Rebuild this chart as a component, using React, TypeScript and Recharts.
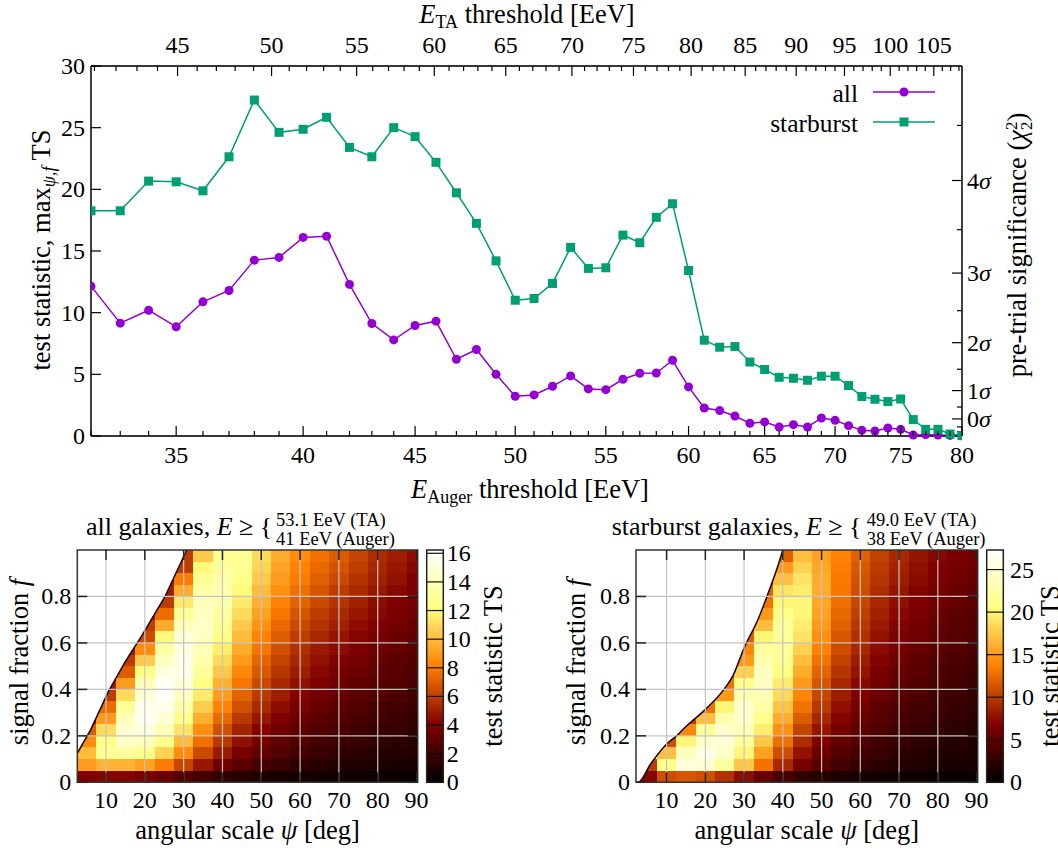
import React from 'react'
import {
  LineChart,
  Line,
  XAxis,
  YAxis,
  CartesianGrid,
  Legend,
  Customized,
  ComposedChart,
  Scatter,
  Area,
  ReferenceLine,
  ReferenceArea,
} from 'recharts'

const FONT = '"Liberation Serif", "DejaVu Serif", "Times New Roman", Times, serif'
const W = 1058
const H = 859
const PURPLE = '#9400d3'
const GREEN = '#009e73'

// ---------- top panel: max TS vs energy threshold ----------
const eAuger = [
  32, 33, 34, 35, 36, 37, 38, 39, 40, 41, 42, 43, 44, 45, 46, 47, 48, 49, 50, 51, 52, 53, 54, 55, 56,
  57, 58, 59, 60, 61, 62, 63, 64, 65, 66, 67, 68, 69, 70, 71, 72, 73, 74, 75, 76, 77, 78, 79, 80,
]
const tsAll = [
  12.15, 9.15, 10.2, 8.85, 10.88, 11.8, 14.26, 14.48, 16.1, 16.2, 12.29, 9.12, 7.79, 8.96, 9.31, 6.22,
  7.01, 5.0, 3.22, 3.33, 4.03, 4.87, 3.82, 3.76, 4.6, 5.09, 5.11, 6.14, 3.98, 2.27, 2.06, 1.62, 1.03,
  1.14, 0.73, 0.92, 0.73, 1.46, 1.27, 0.84, 0.46, 0.41, 0.65, 0.54, 0.08, 0.11, 0.08, 0.05, 0.02,
]
const tsStarburst = [
  18.26, 18.26, 20.67, 20.61, 19.88, 22.64, 27.24, 24.62, 24.87, 25.84, 23.4, 22.64, 25.0, 24.27,
  22.19, 19.72, 17.24, 14.2, 11.01, 11.15, 12.37, 15.29, 13.59, 13.64, 16.29, 15.67, 17.73, 18.83,
  13.42, 7.77, 7.2, 7.25, 6.0, 5.39, 4.76, 4.68, 4.52, 4.85, 4.85, 4.09, 3.2, 2.98, 2.79, 3.0, 1.33,
  0.54, 0.54, 0.16, 0.03,
]
const augerLabels = [35, 40, 45, 50, 55, 60, 65, 70, 75, 80]
const taLabels = [45, 50, 55, 60, 65, 70, 75, 80, 85, 90, 95, 100, 105]
const tsTicks = [0, 5, 10, 15, 20, 25, 30]
const sigmaLevels = [-2, -1.5, -1, -0.5, 0, 0.5, 1, 1.5, 2, 2.5, 3, 3.5, 4, 4.5]
const sigmaTS = [
  0.046, 0.138, 0.346, 0.738, 1.386, 2.351, 3.682, 5.412, 7.566, 10.163, 13.211, 16.728, 20.716,
  25.182,
]

// energy-scale conversion between the two experiments (for the top axis)
const taToAuger = (ta: number) => 35.05 * Math.pow(ta / 45, 1 / 1.065)
const augerToTa = (e: number) => 45 * Math.pow(e / 35.05, 1.065)
const taMinor = Array.from({ length: 68 }, (_, i) => 41 + i)

const TOP = { PL: 91, PR: 962, PT: 66, PB: 436, H: 520 }

// ---------- bottom panels: TS maps ----------
const psiCenters = [5, 10, 15, 20, 25, 30, 35, 40, 45, 50, 55, 60, 65, 70, 75, 80, 85, 90]
const fCenters = [
  0.975, 0.925, 0.875, 0.825, 0.775, 0.725, 0.675, 0.625, 0.575, 0.525, 0.475, 0.425, 0.375, 0.325,
  0.275, 0.225, 0.175, 0.125, 0.075, 0.025,
]
const psiTicks = [10, 20, 30, 40, 50, 60, 70, 80, 90]
const psiGrid = [10, 20, 30, 40, 50, 60, 70, 80]
const fTicks = [0, 0.2, 0.4, 0.6, 0.8]
const fGrid = [0.2, 0.4, 0.6, 0.8]
const allCbTicks = [0, 2, 4, 6, 8, 10, 12, 14, 16]
const starCbTicks = [0, 5, 10, 15, 20, 25]

const _ = null
const allMap: (number | null)[][] = [
  [_, _, _, _, _, 6, 10.5, 12.8, 12.8, 11, 9.5, 8.5, 7.7, 7, 6.2, 5.5, 5, 4.5],
  [_, _, _, _, _, 6, 12, 13.2, 12.8, 10.8, 9.3, 8.2, 7.4, 6.7, 6, 5.3, 4.8, 4.3],
  [_, _, _, _, 5, 8, 12.8, 13.5, 12.5, 10.5, 9, 8, 7.1, 6.4, 5.7, 5.1, 4.6, 4.1],
  [_, _, _, _, 5, 9.5, 13.5, 13.7, 12, 10, 8.6, 7.6, 6.8, 6, 5.4, 4.8, 4.3, 3.9],
  [_, _, _, _, 6, 11.5, 14, 13.6, 11.5, 9.6, 8.2, 7.2, 6.4, 5.7, 5.1, 4.5, 4.1, 3.7],
  [_, _, _, 5, 7.5, 13, 14.3, 13.2, 11, 9.2, 7.8, 6.8, 6, 5.4, 4.8, 4.3, 3.9, 3.5],
  [_, _, _, 6, 9.5, 14, 14.5, 12.8, 10.5, 8.7, 7.4, 6.4, 5.7, 5.1, 4.5, 4.1, 3.7, 3.3],
  [_, _, _, 6.5, 12, 15, 14.3, 12.2, 10, 8.2, 7, 6, 5.3, 4.7, 4.2, 3.8, 3.4, 3.1],
  [_, _, 5, 8.5, 13.3, 15.3, 14, 11.6, 9.5, 7.8, 6.6, 5.6, 4.9, 4.4, 3.9, 3.5, 3.2, 2.9],
  [_, _, 6, 10.5, 14.3, 15.6, 13.6, 11, 9, 7.3, 6.2, 5.3, 4.6, 4.1, 3.7, 3.3, 3, 2.7],
  [_, _, 7, 12.3, 15.3, 15.5, 13, 10.4, 8.4, 6.9, 5.8, 5, 4.3, 3.8, 3.4, 3.1, 2.8, 2.5],
  [_, 5, 9, 14, 15.9, 15, 12.3, 9.7, 7.8, 6.4, 5.4, 4.6, 4, 3.5, 3.1, 2.8, 2.6, 2.3],
  [_, 6, 11, 15, 16, 14.4, 11.5, 9, 7.2, 5.9, 5, 4.2, 3.6, 3.2, 2.9, 2.6, 2.4, 2.1],
  [_, 7.5, 13, 15.7, 15.6, 13.5, 10.6, 8.2, 6.6, 5.4, 4.5, 3.8, 3.3, 2.9, 2.6, 2.3, 2.1, 1.9],
  [5, 9, 14, 15.8, 15, 12.5, 9.6, 7.4, 5.9, 4.8, 4, 3.4, 2.9, 2.6, 2.3, 2.1, 1.9, 1.7],
  [7, 11, 14.8, 15.3, 14, 11.3, 8.6, 6.6, 5.2, 4.2, 3.5, 3, 2.6, 2.3, 2, 1.8, 1.7, 1.5],
  [8.5, 12.5, 14.5, 14.2, 12.5, 10, 7.6, 5.8, 4.6, 3.7, 3.1, 2.6, 2.2, 2, 1.8, 1.6, 1.5, 1.3],
  [10, 12.8, 13.2, 12.5, 10.8, 8.5, 6.4, 4.9, 3.8, 3.1, 2.5, 2.1, 1.8, 1.6, 1.4, 1.3, 1.2, 1.1],
  [9, 9.8, 9.8, 9.2, 8, 6.3, 4.8, 3.6, 2.8, 2.2, 1.8, 1.5, 1.3, 1.1, 1, 0.9, 0.8, 0.8],
  [4, 4.2, 4.2, 3.9, 3.4, 2.7, 2.1, 1.6, 1.2, 1, 0.8, 0.7, 0.6, 0.5, 0.45, 0.4, 0.35, 0.3],
]
const starMap: (number | null)[][] = [
  [_, _, _, _, _, _, _, 12, 17, 15.5, 13.8, 12, 10.3, 9, 8, 7.2, 6.5, 6],
  [_, _, _, _, _, _, _, 15, 18, 15.8, 13.6, 11.6, 10, 8.7, 7.7, 6.9, 6.3, 5.8],
  [_, _, _, _, _, _, 10, 17, 19, 16, 13.4, 11.3, 9.7, 8.4, 7.4, 6.6, 6, 5.5],
  [_, _, _, _, _, _, 12, 19, 19.5, 16, 13.2, 11, 9.3, 8, 7, 6.3, 5.7, 5.2],
  [_, _, _, _, _, _, 13, 20, 20, 15.8, 12.8, 10.6, 9, 7.7, 6.8, 6, 5.4, 5],
  [_, _, _, _, _, _, 15, 21, 20, 15.5, 12.4, 10.2, 8.6, 7.3, 6.4, 5.7, 5.1, 4.7],
  [_, _, _, _, _, 10, 17, 22, 19.5, 15, 12, 9.8, 8.2, 7, 6.1, 5.4, 4.8, 4.4],
  [_, _, _, _, _, 12, 20, 22, 19, 14.5, 11.5, 9.4, 7.8, 6.6, 5.8, 5.1, 4.6, 4.2],
  [_, _, _, _, _, 14, 22, 22, 18, 13.8, 11, 8.9, 7.4, 6.3, 5.5, 4.8, 4.3, 3.9],
  [_, _, _, _, _, 15, 23, 21.5, 17, 13, 10.3, 8.4, 7, 5.9, 5.1, 4.5, 4, 3.7],
  [_, _, _, _, 10, 18, 24, 20.5, 16, 12.2, 9.7, 7.9, 6.5, 5.5, 4.8, 4.2, 3.8, 3.4],
  [_, _, _, _, 13, 21, 24, 19.5, 15, 11.4, 9, 7.3, 6.1, 5.1, 4.4, 3.9, 3.5, 3.2],
  [_, _, _, 10, 15, 23.5, 23.5, 18.5, 14, 10.6, 8.4, 6.8, 5.6, 4.7, 4.1, 3.6, 3.2, 2.9],
  [_, _, _, 13, 20, 24.5, 22.5, 17.3, 13, 9.8, 7.7, 6.2, 5.1, 4.3, 3.7, 3.3, 2.9, 2.6],
  [_, _, 10, 17, 23, 24.5, 21, 16, 11.8, 8.9, 7, 5.6, 4.6, 3.9, 3.3, 2.9, 2.6, 2.4],
  [_, _, 14, 22, 24.5, 23.5, 19.5, 14.5, 10.5, 7.9, 6.2, 5, 4.1, 3.4, 2.9, 2.6, 2.3, 2.1],
  [_, 11, 20, 24.5, 25, 22, 17.5, 12.8, 9.2, 6.9, 5.4, 4.3, 3.5, 3, 2.6, 2.3, 2, 1.8],
  [_, 17, 24, 26, 24.5, 20, 15.5, 11, 7.8, 5.8, 4.5, 3.6, 3, 2.5, 2.2, 1.9, 1.7, 1.5],
  [10, 21, 25.5, 25, 22, 17.5, 13, 9, 6.3, 4.7, 3.6, 2.9, 2.4, 2, 1.7, 1.5, 1.3, 1.2],
  [7, 11, 11.5, 11, 9.5, 7.5, 5.5, 3.8, 2.7, 2, 1.5, 1.2, 1, 0.8, 0.7, 0.6, 0.55, 0.5],
]

// edge of the allowed (psi, f) region, white above it
const allEdgePsi = [2.6, 6, 10.6, 15, 19.2, 25.2, 30.8]
const allEdgeF = [0.125, 0.225, 0.39, 0.52, 0.63, 0.8, 1.0]
const starEdgePsi = [2.1, 2.6, 6, 10, 12.8, 15, 20.1, 24.8, 27, 30.3, 33.3, 35.9, 38.5, 40]
const starEdgeF = [0, 0, 0.082, 0.165, 0.203, 0.24, 0.315, 0.4, 0.455, 0.59, 0.69, 0.8, 0.92, 1.0]

const clamp = (v: number) => Math.max(0, Math.min(1, v))
const afmhot = (t: number) =>
  `rgb(${Math.round(255 * clamp(2 * t))},${Math.round(255 * clamp(2 * t - 0.5))},${Math.round(
    255 * clamp(2 * t - 1),
  )})`

// ---------- top panel ticks ----------
function AugerTick(props: any) {
  const { x, payload } = props
  const major = augerLabels.includes(Math.round(payload.value))
  return (
    <g>
      <line x1={x} x2={x} y1={TOP.PB} y2={TOP.PB - (major ? 10 : 5)} stroke="#000" strokeWidth={1.2} />
      {major && (
        <text x={x} y={TOP.PB + 27} textAnchor="middle" fontFamily={FONT} fontSize={24} fill="#000">
          {Math.round(payload.value)}
        </text>
      )}
    </g>
  )
}

function TaTick(props: any) {
  const { x, payload } = props
  const ta = Math.round(augerToTa(payload.value))
  const major = taLabels.includes(ta)
  return (
    <g>
      <line x1={x} x2={x} y1={TOP.PT} y2={TOP.PT + (major ? 10 : 5)} stroke="#000" strokeWidth={1.2} />
      {major && (
        <text x={x} y={TOP.PT - 13} textAnchor="middle" fontFamily={FONT} fontSize={24} fill="#000">
          {ta}
        </text>
      )}
    </g>
  )
}

function TsTick(props: any) {
  const { y, payload } = props
  return (
    <g>
      <line x1={TOP.PL} x2={TOP.PL + 10} y1={y} y2={y} stroke="#000" strokeWidth={1.2} />
      <text x={TOP.PL - 6} y={y + 8} textAnchor="end" fontFamily={FONT} fontSize={24} fill="#000">
        {payload.value}
      </text>
    </g>
  )
}

const SquareDot = (props: any) => {
  const { cx, cy } = props
  if (cx == null || cy == null) return <g />
  return <rect x={cx - 4.5} y={cy - 4.5} width={9} height={9} fill={GREEN} />
}

function LegendBox(props: any) {
  const payload = props.payload || []
  return (
    <svg width={205} height={62} style={{ display: 'block' }}>
      {payload.map((entry: any, i: number) => {
        const y = 16 + i * 30
        const star = entry.dataKey === 'starburst'
        return (
          <g key={entry.value}>
            <text x={116} y={y + 10} textAnchor="end" fontFamily={FONT} fontSize={25.5} fill="#000">
              {entry.value}
            </text>
            <line x1={131} x2={193} y1={y} y2={y} stroke={entry.color} strokeWidth={1.5} />
            {star ? (
              <rect x={157.5} y={y - 4.5} width={9} height={9} fill={entry.color} />
            ) : (
              <circle cx={162} cy={y} r={4.5} fill={entry.color} />
            )}
          </g>
        )
      })}
    </svg>
  )
}

// titles and the right-hand significance scale (same 0..30 range as the TS axis)
function TopTitles() {
  const t = { fontFamily: FONT, fontSize: 26.5, fill: '#000' }
  const tsY = (v: number) => TOP.PB - (v / 30) * (TOP.PB - TOP.PT)
  return (
    <g>
      {sigmaTS.map((ts, i) => {
        const lvl = sigmaLevels[i]
        const major = lvl >= 0 && Number.isInteger(lvl)
        const y = tsY(ts)
        return (
          <g key={`sig${i}`}>
            <line x1={TOP.PR} x2={TOP.PR - (major ? 10 : 5)} y1={y} y2={y} stroke="#000" strokeWidth={1.2} />
            {major && (
              <text x={TOP.PR + 5} y={y + 8} fontFamily={FONT} fontSize={24} fill="#000">
                {lvl}
                <tspan fontStyle="italic">σ</tspan>
              </text>
            )}
          </g>
        )
      })}
      <text x={527} y={23} textAnchor="middle" {...t}>
        <tspan fontStyle="italic">E</tspan>
        <tspan fontSize={18} dy={5}>TA</tspan>
        <tspan dy={-5}> threshold [EeV]</tspan>
      </text>
      <text x={530} y={498} textAnchor="middle" {...t}>
        <tspan fontStyle="italic">E</tspan>
        <tspan fontSize={18} dy={5}>Auger</tspan>
        <tspan dy={-5}> threshold [EeV]</tspan>
      </text>
      <text transform="translate(50,250) rotate(-90)" textAnchor="middle" {...t}>
        test statistic, max
        <tspan fontSize={18} dy={5} fontStyle="italic">ψ,f</tspan>
        <tspan dy={-5}> TS</tspan>
      </text>
      <text transform="translate(1026,245) rotate(-90)" textAnchor="middle" {...t}>
        pre-trial significance (<tspan fontStyle="italic">χ</tspan>
        <tspan fontSize={17} dy={-9}>2</tspan>
        <tspan fontSize={17} dx={-8.5} dy={15}>2</tspan>
        <tspan dy={-6}>)</tspan>
      </text>
    </g>
  )
}

function TopPanel() {
  const data = eAuger.map((e, i) => ({ e, all: tsAll[i], starburst: tsStarburst[i] }))
  const taPositions = taMinor.map(taToAuger).filter((v) => v >= 32 && v <= 80)
  return (
    <div style={{ position: 'absolute', left: 0, top: 0, fontFamily: FONT }}>
      <LineChart
        width={W}
        height={TOP.H}
        data={data}
        margin={{ top: TOP.PT - 40, right: W - TOP.PR - 50, bottom: TOP.H - TOP.PB - 40, left: TOP.PL - 50 }}
      >
        <CartesianGrid xAxisId="bottom" yAxisId="right" horizontal vertical={false} stroke="#cdcdcd" strokeWidth={1.3} />
        <XAxis
          xAxisId="bottom"
          dataKey="e"
          type="number"
          scale="log"
          domain={[32, 80]}
          ticks={eAuger}
          interval={0}
          allowDataOverflow
          tick={AugerTick}
          tickLine={false}
          axisLine={{ stroke: '#000', strokeWidth: 1.5 }}
          height={40}
        />
        <XAxis
          xAxisId="top"
          orientation="top"
          dataKey="e"
          type="number"
          scale="log"
          domain={[32, 80]}
          ticks={taPositions}
          interval={0}
          allowDataOverflow
          tick={TaTick}
          tickLine={false}
          axisLine={{ stroke: '#000', strokeWidth: 1.5 }}
          height={40}
        />
        <YAxis
          yAxisId="left"
          type="number"
          domain={[0, 30]}
          ticks={tsTicks}
          interval={0}
          tick={TsTick}
          tickLine={false}
          axisLine={{ stroke: '#000', strokeWidth: 1.5 }}
          width={50}
        />
        <YAxis
          yAxisId="right"
          orientation="right"
          type="number"
          domain={[0, 30]}
          ticks={sigmaTS}
          interval={0}
          tick={false}
          tickLine={false}
          axisLine={{ stroke: '#000', strokeWidth: 1.5 }}
          width={50}
        />
        <Legend
          layout="vertical"
          align="center"
          verticalAlign="middle"
          content={LegendBox}
          wrapperStyle={{ position: 'absolute', left: 742, top: 76, width: 205, height: 62, background: '#fff' }}
        />
        <Line
          xAxisId="bottom"
          yAxisId="left"
          dataKey="all"
          name="all"
          stroke={PURPLE}
          strokeWidth={1.5}
          dot={{ r: 4.5, fill: PURPLE, stroke: 'none' }}
          activeDot={false}
          isAnimationActive={false}
        />
        <Line
          xAxisId="bottom"
          yAxisId="left"
          dataKey="starburst"
          name="starburst"
          stroke={GREEN}
          strokeWidth={1.5}
          dot={SquareDot}
          activeDot={false}
          isAnimationActive={false}
        />
        <Customized component={<TopTitles />} />
      </LineChart>
    </div>
  )
}

// ---------- heat map panels ----------
type Geo = {
  PL: number
  PR: number
  PT: number
  PB: number
  xMin: number
  xMax: number
  cbL: number
  cbR: number
  cbLabelX: number
}

const LEFT_GEO: Geo = { PL: 77.3, PR: 417.7, PT: 550, PB: 782.3, xMin: 2.6, xMax: 90.3, cbL: 426.7, cbR: 443.3, cbLabelX: 446.7 }
const RIGHT_GEO: Geo = { PL: 636, PR: 977.7, PT: 550, PB: 782.3, xMin: 2.1, xMax: 90.3, cbL: 986.7, cbR: 1003.3, cbLabelX: 1010 }

function PsiTick(props: any) {
  const { x, payload, g } = props
  return (
    <g>
      <line x1={x} x2={x} y1={g.PB} y2={g.PB - 10} stroke="#222" strokeWidth={1.5} />
      <line x1={x} x2={x} y1={g.PT} y2={g.PT + 10} stroke="#222" strokeWidth={1.5} />
      <text x={x} y={g.PB + 26} textAnchor="middle" fontFamily={FONT} fontSize={24} fill="#000">
        {payload.value}
      </text>
    </g>
  )
}

function FTick(props: any) {
  const { y, payload, g } = props
  const v = payload.value
  return (
    <g>
      <line x1={g.PL} x2={g.PL + 10} y1={y} y2={y} stroke="#222" strokeWidth={1.5} />
      <line x1={g.PR} x2={g.PR - 10} y1={y} y2={y} stroke="#222" strokeWidth={1.5} />
      <text x={g.PL - 6} y={y + 8} textAnchor="end" fontFamily={FONT} fontSize={24} fill="#000">
        {v === 0 ? '0' : v.toFixed(1)}
      </text>
    </g>
  )
}

function HeatDecor(props: any) {
  const { g, tsMax, cbTicks, id, name, ta, auger, titleX, supX, fLabelX, cbTitleX } = props
  const cy = (v: number) => g.PB - (v / tsMax) * (g.PB - g.PT)
  const t = { fontFamily: FONT, fill: '#000' }
  return (
    <g>
      <defs>
        <linearGradient id={id} x1="0" y1="1" x2="0" y2="0">
          {[0, 0.25, 0.5, 0.75, 1].map((s) => (
            <stop key={s} offset={s} stopColor={afmhot(s)} />
          ))}
        </linearGradient>
      </defs>
      <rect x={g.cbL} y={g.PT} width={g.cbR - g.cbL} height={g.PB - g.PT} fill={`url(#${id})`} stroke="#222" strokeWidth={1.5} />
      {cbTicks.map((v: number) => (
        <g key={v}>
          <line x1={g.cbL} x2={g.cbR} y1={cy(v)} y2={cy(v)} stroke="#111" strokeWidth={1.2} />
          <text x={g.cbLabelX} y={cy(v) + 8} fontSize={24} {...t}>
            {v}
          </text>
        </g>
      ))}
      <text x={titleX} y={535} fontSize={26} {...t}>
        {name} galaxies, <tspan fontStyle="italic">E</tspan> ≥ {'{'}
      </text>
      <text x={supX} y={526} fontSize={18.5} {...t}>
        {ta} EeV (TA)
      </text>
      <text x={supX} y={545} fontSize={18.5} {...t}>
        {auger} EeV (Auger)
      </text>
      <text x={(g.PL + g.PR) / 2} y={839} textAnchor="middle" fontSize={26.5} {...t}>
        angular scale <tspan fontStyle="italic">ψ</tspan> [deg]
      </text>
      <text transform={`translate(${fLabelX},662) rotate(-90)`} textAnchor="middle" fontSize={26.5} {...t}>
        signal fraction <tspan fontStyle="italic">f</tspan>
      </text>
      <text transform={`translate(${cbTitleX},666) rotate(-90)`} textAnchor="middle" fontSize={26.5} {...t}>
        test statistic TS
      </text>
    </g>
  )
}

function HeatPanel(props: any) {
  const { g, grid, edgePsi, edgeF, tsMax, curve } = props
  const cells: { psi: number; f: number; ts: number }[] = []
  grid.forEach((row: (number | null)[], r: number) =>
    row.forEach((ts, c) => {
      if (ts != null) cells.push({ psi: psiCenters[c], f: fCenters[r], ts })
    }),
  )
  const edge = edgePsi.map((psi: number, i: number) => ({ psi, f: edgeF[i] }))
  const cw = (5 * (g.PR - g.PL)) / (g.xMax - g.xMin)
  const ch = 0.05 * (g.PB - g.PT)
  const HeatCell = (p: any) => {
    const { cx, cy, payload } = p
    if (cx == null || cy == null) return <g />
    const x0 = Math.max(cx - cw / 2, g.PL)
    const x1 = Math.min(cx + cw / 2 + 0.6, g.PR)
    return (
      <rect
        x={x0}
        y={cy - ch / 2}
        width={x1 - x0}
        height={ch + 0.6}
        fill={afmhot(payload.ts / tsMax)}
        shapeRendering="crispEdges"
      />
    )
  }
  return (
    <div style={{ position: 'absolute', left: 0, top: 0, fontFamily: FONT }}>
      <ComposedChart
        width={W}
        height={H}
        margin={{ top: g.PT, right: W - g.PR, bottom: H - g.PB - 40, left: g.PL - 50 }}
      >
        <Scatter data={cells} shape={HeatCell} isAnimationActive={false} />
        <Area
          data={edge}
          dataKey="f"
          type={curve}
          baseValue={1}
          stroke="#1a0000"
          strokeWidth={1.5}
          fill="#ffffff"
          fillOpacity={1}
          dot={false}
          activeDot={false}
          isAnimationActive={false}
          zIndex={700}
        />
        {psiGrid.map((v) => (
          <ReferenceLine key={`x${v}`} x={v} stroke="#c4c4c4" strokeWidth={1.2} zIndex={800} />
        ))}
        {fGrid.map((v) => (
          <ReferenceLine key={`y${v}`} y={v} stroke="#c4c4c4" strokeWidth={1.2} zIndex={800} />
        ))}
        <ReferenceArea
          x1={g.xMin}
          x2={g.xMax}
          y1={0}
          y2={1}
          fill="none"
          fillOpacity={0}
          stroke="#333"
          strokeWidth={1.5}
          ifOverflow="visible"
          zIndex={900}
        />
        <XAxis
          dataKey="psi"
          type="number"
          domain={[g.xMin, g.xMax]}
          ticks={psiTicks}
          interval={0}
          allowDataOverflow
          tick={(p: any) => <PsiTick {...p} g={g} />}
          tickLine={false}
          axisLine={false}
          height={40}
          zIndex={950}
        />
        <YAxis
          dataKey="f"
          type="number"
          domain={[0, 1]}
          ticks={fTicks}
          interval={0}
          allowDataOverflow
          tick={(p: any) => <FTick {...p} g={g} />}
          tickLine={false}
          axisLine={false}
          width={50}
          zIndex={950}
        />
        <Customized component={<HeatDecor {...props} />} />
      </ComposedChart>
    </div>
  )
}

export default function App() {
  return (
    <div style={{ position: 'absolute', left: 0, top: 0, width: W, height: H, background: '#fff', fontFamily: FONT }}>
      <HeatPanel
        g={LEFT_GEO}
        grid={allMap}
        edgePsi={allEdgePsi}
        edgeF={allEdgeF}
        tsMax={16.23}
        cbTicks={allCbTicks}
        id="cbAll"
        curve="linear"
        name="all"
        ta="53.1"
        auger="41"
        titleX={86}
        supX={276}
        fLabelX={28}
        cbTitleX={502}
      />
      <HeatPanel
        g={RIGHT_GEO}
        grid={starMap}
        edgePsi={starEdgePsi}
        edgeF={starEdgeF}
        tsMax={27.3}
        cbTicks={starCbTicks}
        id="cbStar"
        curve="monotone"
        name="starburst"
        ta="49.0"
        auger="38"
        titleX={611.7}
        supX={866.7}
        fLabelX={585}
        cbTitleX={1059}
      />
      <TopPanel />
    </div>
  )
}
